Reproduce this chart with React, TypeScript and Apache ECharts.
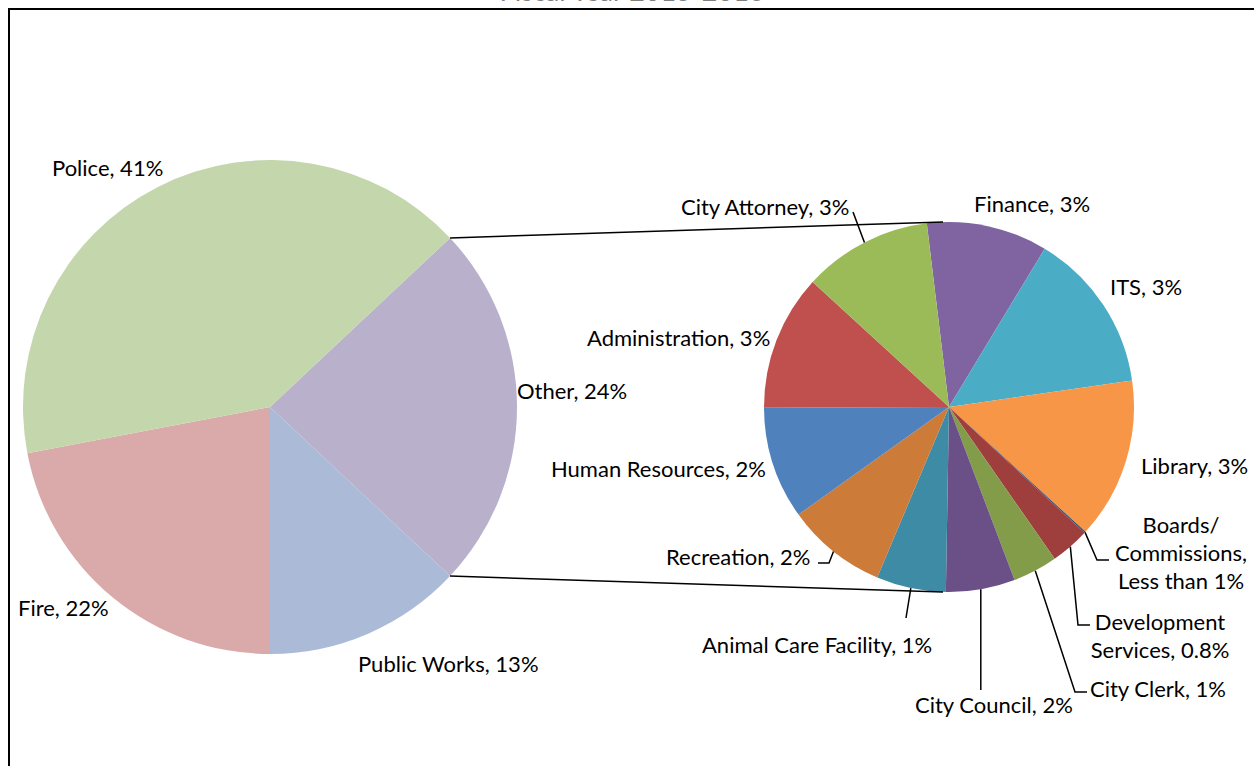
import React, { useEffect, useRef } from "react";
import * as echarts from "echarts";

// ---- data ----
const titleText = "Fiscal Year 2015-2016";
const mainNames = ["Other", "Public Works", "Fire", "Police"];
const mainValues = [24, 13, 22, 41];
const mainColors = ["#B9B0CB", "#AABAD7", "#D9AAA9", "#C4D6AB"];

const subNames = [
  "Finance",
  "ITS",
  "Library",
  "Boards/\nCommissions",
  "Development\nServices",
  "City Clerk",
  "City Council",
  "Animal Care Facility",
  "Recreation",
  "Human Resources",
  "Administration",
  "City Attorney",
];
const subValues = [2.54, 3.38, 3.38, 0.03, 0.82, 0.94, 1.45, 1.46, 2.11, 2.36, 2.85, 2.71];
const subPctLabels = ["3%", "3%", "3%", "Less than 1%", "0.8%", "1%", "2%", "1%", "2%", "2%", "3%", "3%"];
const subColors = [
  "#8064A2", "#4BACC6", "#F79646", "#2C4D75", "#9F3F3D", "#829C4A",
  "#6A5087", "#3D8BA5", "#CD7B38", "#4F81BD", "#C0504D", "#9BBB59",
];

// ---- layout ----
const FONT = "Lato, 'Liberation Sans', sans-serif";
const FS = 22;
const L = { cx: 270, cy: 407, r: 247, start: 43.2 };
const R = { cx: 949, cy: 407, r: 185, start: 96.9 };

const mainLabelPos: [number, number, string][] = [
  [517, 390, "left"],
  [358, 663, "left"],
  [18, 607, "left"],
  [52, 167, "left"],
];
const subLabelPos: [number, number, string][] = [
  [974, 203, "left"],
  [1110, 286, "left"],
  [1141, 465, "left"],
  [1181, 552, "center"],
  [1160, 635, "center"],
  [1090, 688, "left"],
  [915, 704, "left"],
  [702, 644, "left"],
  [666, 556, "left"],
  [551, 468, "left"],
  [587, 337, "left"],
  [681, 206, "left"],
];

function midAngles(values: number[], startEc: number) {
  const total = values.reduce((a, b) => a + b, 0);
  let a = 90 - startEc; // clockwise from 12 o'clock
  return values.map((v) => {
    const span = (v / total) * 360;
    const m = a + span / 2;
    a += span;
    return m;
  });
}
function pt(c: { cx: number; cy: number }, r: number, deg: number): [number, number] {
  const rad = (deg * Math.PI) / 180;
  return [c.cx + r * Math.sin(rad), c.cy - r * Math.cos(rad)];
}

export default function App() {
  const ref = useRef<HTMLDivElement>(null);
  useEffect(() => {
    if (!ref.current) return;
    const chart = echarts.init(ref.current, undefined, { renderer: "svg" });
    const mids = midAngles(subValues, R.start);
    const leaderEnds: Record<number, (e: [number, number]) => number[][]> = {
      11: (e) => [e, [853, 212]],
      3: (e) => [e, [1097, 560], [1109, 560]],
      4: (e) => [e, [1078, 625], [1090, 625]],
      5: (e) => [e, [1075, 692], [1087, 692]],
      6: (e) => [e, [e[0], 690]],
      7: (e) => [e, [906, 618]],
      8: (e) => [e, [829, 563], [818, 563]],
    };
    const leaders = Object.keys(leaderEnds).map((k) => {
      const i = Number(k);
      const e = pt(R, R.r, mids[i]);
      return {
        type: "polyline",
        shape: { points: leaderEnds[i](e) },
        style: { stroke: "#000", lineWidth: 1.5, fill: null },
        z: 10,
      };
    });
    // connector lines between pies (edges of "Other")
    const otherStartCw = 90 - L.start;
    const otherEndCw = otherStartCw + (mainValues[0] / mainValues.reduce((a, b) => a + b, 0)) * 360;
    const pA = pt(L, L.r, otherStartCw);
    const pB = pt(L, L.r, otherEndCw);
    const connectors = [
      { type: "line", shape: { x1: pA[0], y1: pA[1], x2: R.cx - 6, y2: R.cy - R.r }, style: { stroke: "#000", lineWidth: 1.5 }, z: 10 },
      { type: "line", shape: { x1: pB[0], y1: pB[1], x2: R.cx - 6, y2: R.cy + R.r }, style: { stroke: "#000", lineWidth: 1.5 }, z: 10 },
    ];

    const labelStyle = {
      show: true,
      fontFamily: FONT,
      fontSize: FS,
      color: "#000",
      lineHeight: 28,
    };

    chart.setOption({
      animation: false,
      backgroundColor: "#fff",
      graphic: [
        {
          type: "text",
          x: 632,
          y: 4,
          style: {
            text: titleText,
            font: `27px ${FONT}`,
            fill: "#7f7f7f",
            textAlign: "center",
            textVerticalAlign: "bottom",
          },
        },
        {
          type: "rect",
          shape: { x: 9, y: 9, width: 1400, height: 900 },
          style: { fill: null, stroke: "#000", lineWidth: 2 },
          z: 20,
        },
        ...connectors,
        ...leaders,
      ],
      series: [
        {
          type: "pie",
          center: [L.cx, L.cy],
          radius: [0, L.r],
          startAngle: L.start,
          clockwise: true,
          avoidLabelOverlap: false,
          emphasis: { disabled: true },
          data: mainNames.map((n, i) => ({ name: n, value: mainValues[i], itemStyle: { color: mainColors[i] } })),
          label: { ...labelStyle, formatter: (p: any) => `${p.name}, ${Math.round(p.value)}%` },
          labelLine: { show: false },
          labelLayout: (p: any) => {
            const q = mainLabelPos[p.dataIndex];
            return { x: q[0], y: q[1], align: q[2], verticalAlign: "middle" };
          },
        },
        {
          type: "pie",
          center: [R.cx, R.cy],
          radius: [0, R.r],
          startAngle: R.start,
          clockwise: true,
          avoidLabelOverlap: false,
          emphasis: { disabled: true },
          data: subNames.map((n, i) => ({ name: n, value: subValues[i], itemStyle: { color: subColors[i] } })),
          label: {
            ...labelStyle,
            align: "center",
            formatter: (p: any) =>
              `${p.name},${p.name.indexOf("Commissions") >= 0 ? "\n" : " "}${subPctLabels[p.dataIndex]}`,
          },
          labelLine: { show: false },
          labelLayout: (p: any) => {
            const q = subLabelPos[p.dataIndex];
            return { x: q[0], y: q[1], align: q[2], verticalAlign: "middle" };
          },
        },
      ],
    });
    return () => chart.dispose();
  }, []);
  return (
    <div
      ref={ref}
      style={{ position: "fixed", left: 0, top: 0, width: 1254, height: 766 }}
    />
  );
}
